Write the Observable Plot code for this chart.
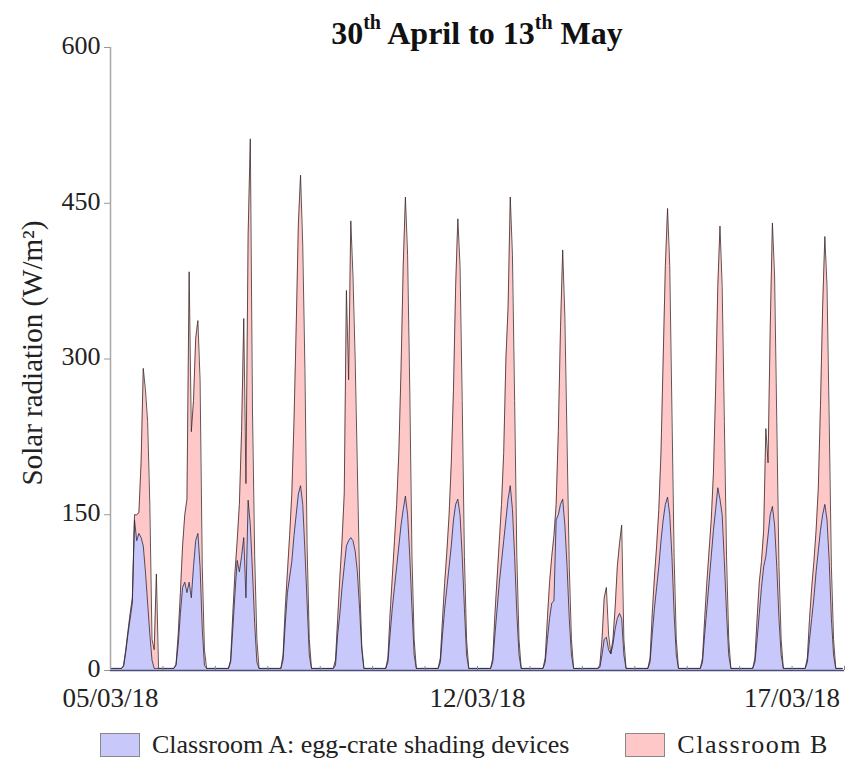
<!DOCTYPE html>
<html>
<head>
<meta charset="utf-8">
<script src="https://cdn.jsdelivr.net/npm/d3@7"></script>
<script src="https://cdn.jsdelivr.net/npm/@observablehq/plot@0.6"></script>
<style>
  body { margin: 0; background: #fff; font-family: "Liberation Serif", "Times New Roman", serif; }
  #wrap { position: relative; width: 849px; height: 772px; overflow: hidden; }
  #chart { position: absolute; left: 0; top: 0; }
  #title { position: absolute; left: 110px; width: 734px; top: 14px; text-align: center;
           font-size: 32px; font-weight: bold; color: #111; line-height: 38px; }
  #title sup { font-size: 20px; line-height: 0; position: relative; top: -3px; }
  #legend { position: absolute; top: 730px; left: 100px; display: flex; align-items: center;
            font-size: 26px; color: #222; }
  .sw { width: 40px; height: 24px; border: 1px solid #888; box-sizing: border-box; margin-right: 12px; }
  .item { display: flex; align-items: center; }
</style>
</head>
<body>
<div id="wrap">
  <div id="chart"></div>
  <div id="title"></div>
  <div id="legend"></div>
</div>
<script>
// ---- data (hourly, one row of 24 values per day) ----
const classroomA = [
  [2,2,2,2,2,2,4,18,35,50,65,145,125,132,128,120,95,65,35,10,2,2,2,2],
  [2,2,2,2,2,2,5,25,55,80,85,75,85,70,100,125,132,100,40,5,2,2,2,2],
  [2,2,2,2,2,2,2,8,40,75,106,95,110,128,70,164,140,95,45,8,2,2,2,2],
  [2,2,2,2,2,2,2,10,45,75,90,105,130,150,170,178,160,115,65,15,2,2,2,2],
  [2,2,2,2,2,2,2,5,35,55,80,100,120,125,128,125,115,95,60,20,2,2,2,2],
  [2,2,2,2,2,2,2,8,35,60,80,100,120,140,155,168,150,110,60,15,2,2,2,2],
  [2,2,2,2,2,2,2,8,35,60,80,100,120,145,160,165,150,110,60,15,2,2,2,2],
  [2,2,2,2,2,2,2,8,35,60,85,105,125,145,165,178,155,110,55,15,2,2,2,2],
  [2,2,2,2,2,2,2,8,30,50,65,67,145,150,160,165,140,100,50,15,2,2,2,2],
  [2,2,2,2,2,2,2,2,3,15,30,32,20,16,25,40,50,55,50,15,2,2,2,2],
  [2,2,2,2,2,2,2,8,35,60,80,100,125,145,160,167,150,110,55,15,2,2,2,2],
  [2,2,2,2,2,2,2,8,35,60,85,110,135,155,176,165,150,105,55,15,2,2,2,2],
  [2,2,2,2,2,2,2,8,30,55,80,100,110,130,150,158,140,100,50,15,2,2,2,2],
  [2,2,2,2,2,2,2,8,30,50,70,95,115,135,150,160,145,105,50,15,2,2,2,2]
];
const classroomB = [
  [2,2,2,2,2,2,5,20,38,55,70,150,150,152,200,291,270,240,160,30,20,93,2,2],
  [2,2,2,2,2,2,6,35,75,120,150,165,384,230,260,320,337,280,100,20,2,2,2,2],
  [2,2,2,2,2,2,2,10,55,95,125,160,230,339,180,420,512,250,110,30,2,2,2,2],
  [2,2,2,2,2,2,2,15,60,95,130,170,240,330,430,477,410,290,120,30,2,2,2,2],
  [2,2,2,2,2,2,2,10,50,90,125,170,366,280,433,380,300,195,90,25,2,2,2,2],
  [2,2,2,2,2,2,2,12,55,90,125,160,210,290,390,456,400,270,110,30,2,2,2,2],
  [2,2,2,2,2,2,2,12,50,85,115,150,200,270,370,435,390,260,110,30,2,2,2,2],
  [2,2,2,2,2,2,2,12,55,90,125,160,210,300,350,456,400,260,110,30,2,2,2,2],
  [2,2,2,2,2,2,2,12,50,85,110,130,160,230,330,405,340,220,100,30,2,2,2,2],
  [2,2,2,2,2,2,2,2,5,30,70,80,35,16,30,60,100,122,140,30,2,2,2,2],
  [2,2,2,2,2,2,2,12,55,90,120,155,210,300,390,445,390,250,110,30,2,2,2,2],
  [2,2,2,2,2,2,2,12,50,85,115,145,190,270,370,428,370,240,110,30,2,2,2,2],
  [2,2,2,2,2,2,2,12,50,85,105,135,233,200,330,431,380,240,100,30,2,2,2,2],
  [2,2,2,2,2,2,2,12,50,80,105,135,175,255,350,418,370,240,100,30,2,2,2,2]
];
const yTicks = [0, 150, 300, 450, 600];
const xTickDays = [0, 7, 13];
const xTickLabels = ["05/03/18", "12/03/18", "17/03/18"];
const seriesNames = ["Classroom A: egg-crate shading devices", "Classroom B"];
const seriesColors = ["#c8c8fa", "#ffc8c8"];
const yLabel = "Solar radiation (W/m²)";

// ---- build table ----
const rows = [];
classroomA.forEach((day, d) => day.forEach((v, h) => {
  rows.push({t: d * 24 + h, a: v, b: classroomB[d][h]});
}));
const nDays = classroomA.length;
const midnights = d3.range(0, nDays + 1).map(d => d * 24);

const chart = Plot.plot({
  width: 849,
  height: 720,
  marginLeft: 110,
  marginRight: 5,
  marginTop: 47,
  marginBottom: 50,
  style: {fontFamily: "'Liberation Serif', serif", color: "#222", background: "transparent"},
  x: {domain: [0, nDays * 24], axis: null},
  y: {domain: [0, 600], axis: null},
  marks: [
    Plot.areaY(rows, {x: "t", y: "b", fill: seriesColors[1]}),
    Plot.areaY(rows, {x: "t", y: "a", fill: seriesColors[0]}),
    Plot.lineY(rows, {x: "t", y: "b", stroke: "#3a2828", strokeWidth: 0.8}),
    Plot.lineY(rows, {x: "t", y: "a", stroke: "#2a2a3c", strokeWidth: 0.8}),
    Plot.ruleX(midnights, {x: d => d, y1: 0, y2: 4, stroke: "#888", strokeWidth: 1}),
    Plot.ruleY([0], {stroke: "#4c4c78", strokeWidth: 1.3}),
    Plot.ruleX([0], {y1: 0, y2: 600, stroke: "#a8a8a8", strokeWidth: 1.5}),
    Plot.axisY({ticks: yTicks, tickSize: 6, stroke: "#999", tickFormat: () => "", label: null}),
    Plot.axisY({ticks: yTicks, tickSize: 0, tickPadding: 10, fontSize: 26, dy: -2, label: null}),
    Plot.axisX({ticks: xTickDays.map(d => d * 24), tickSize: 0, tickPadding: 17, fontSize: 27,
                tickFormat: t => xTickLabels[xTickDays.indexOf(t / 24)], label: null}),
    Plot.text([yLabel], {frameAnchor: "left", textAnchor: "middle", rotate: -90, dx: -78, dy: -6,
                         fontSize: 29, fill: "#222"})
  ]
});
document.getElementById("chart").appendChild(chart);

document.getElementById("title").innerHTML =
  "30<sup>th</sup> April to 13<sup>th</sup> May";

const legend = document.getElementById("legend");
seriesNames.forEach((name, i) => {
  const item = document.createElement("div");
  item.className = "item";
  item.style.marginRight = i === 0 ? "56px" : "0";
  const sw = document.createElement("div");
  sw.className = "sw";
  sw.style.background = seriesColors[i];
  const tx = document.createElement("span");
  tx.textContent = name;
  if (i === 1) tx.style.letterSpacing = "1.5px";
  item.appendChild(sw);
  item.appendChild(tx);
  legend.appendChild(item);
});
</script>
</body>
</html>
